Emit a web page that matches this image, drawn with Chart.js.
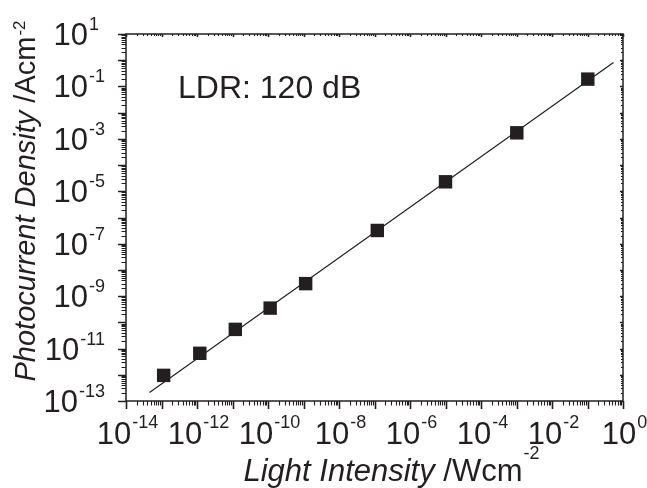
<!DOCTYPE html>
<html>
<head>
<meta charset="utf-8">
<script src="https://cdn.jsdelivr.net/npm/chart.js@4.4.1/dist/chart.umd.min.js"></script>
<style>
  html, body { margin: 0; padding: 0; background: #fff; }
  #wrap { width: 647px; height: 488px; }
</style>
</head>
<body>
<div id="wrap"><canvas id="ldrChart" width="647" height="488"></canvas></div>
<script>
// ---------- Data ----------
const INTENSITY = [1.15e-13, 1.2e-12, 1.2e-11, 1.15e-10, 1.15e-9, 1.2e-7, 1.0e-5, 1.02e-3, 1.02e-1];
const CURRENT   = [9.5e-13, 6.6e-12, 5.4e-11, 3.5e-10, 3.0e-9, 3.2e-7, 2.3e-5, 1.7e-3, 1.9e-1];

// linear fit drawn through the points (end points)
const FIT_X = [4.6e-14, 0.54];
const FIT_Y = [2.1e-13, 0.81];

const X_RANGE = [1e-14, 1];
const Y_RANGE = [1e-13, 10];
const X_LABEL_EXP = [-14, -12, -10, -8, -6, -4, -2, 0];
const Y_LABEL_EXP = [1, -1, -3, -5, -7, -9, -11, -13];

const NOTE = 'LDR: 120 dB';
const X_TITLE = ['Light Intensity', ' /Wcm', '-2'];
const Y_TITLE = ['Photocurrent Density', ' /Acm', '-2'];

const INK = '#231f20';
const FONT = '"Liberation Sans", Arial, Helvetica, sans-serif';

// ---------- helpers ----------
function decadeTicks(min, max) {
  const out = [];
  const e0 = Math.round(Math.log10(min)), e1 = Math.round(Math.log10(max));
  for (let e = e0; e < e1; e++) {
    for (let m = 1; m < 10; m++) out.push({ v: m * Math.pow(10, e), major: m === 1 });
  }
  out.push({ v: max, major: true });
  return out;
}

// pieces: [italic, normal, superscript]
function drawTitle(ctx, parts, size, supSize, supRise) {
  ctx.font = `italic ${size}px ${FONT}`;
  const w0 = ctx.measureText(parts[0]).width;
  ctx.font = `${size}px ${FONT}`;
  const w1 = ctx.measureText(parts[1]).width;
  ctx.font = `${supSize}px ${FONT}`;
  const w2 = ctx.measureText(parts[2]).width;
  let x = -(w0 + w1 + w2 + 1) / 2;
  ctx.textAlign = 'left';
  ctx.textBaseline = 'alphabetic';
  ctx.font = `italic ${size}px ${FONT}`;
  ctx.fillText(parts[0], x, 0);
  x += w0;
  ctx.font = `${size}px ${FONT}`;
  ctx.fillText(parts[1], x, 0);
  x += w1 + 1;
  ctx.font = `${supSize}px ${FONT}`;
  ctx.fillText(parts[2], x, -supRise);
}

const axesPlugin = {
  id: 'originAxes',
  afterDraw(chart) {
    const { ctx, chartArea: a, scales: { x, y } } = chart;
    ctx.save();
    ctx.strokeStyle = INK;
    ctx.fillStyle = INK;

    // frame
    ctx.lineWidth = 1.5;
    ctx.strokeRect(a.left, a.top, a.right - a.left, a.bottom - a.top);

    // x ticks: outward at bottom, small inward at top
    decadeTicks(X_RANGE[0], X_RANGE[1]).forEach(t => {
      const px = Math.round(x.getPixelForValue(t.v)) + 0.5;
      ctx.lineWidth = t.major ? 1.6 : 1.1;
      ctx.beginPath();
      ctx.moveTo(px, a.bottom);
      ctx.lineTo(px, a.bottom + (t.major ? 8 : 4.5));
      ctx.moveTo(px, a.top);
      ctx.lineTo(px, a.top + (t.major ? 3 : 2));
      ctx.stroke();
    });
    // y ticks: outward at left, small inward at right
    decadeTicks(Y_RANGE[0], Y_RANGE[1]).forEach(t => {
      const py = Math.round(y.getPixelForValue(t.v)) + 0.5;
      ctx.lineWidth = t.major ? 1.6 : 1.1;
      ctx.beginPath();
      ctx.moveTo(a.left, py);
      ctx.lineTo(a.left - (t.major ? 8 : 4.5), py);
      ctx.moveTo(a.right, py);
      ctx.lineTo(a.right - (t.major ? 3 : 2), py);
      ctx.stroke();
    });

    const big = `31px ${FONT}`, small = `18px ${FONT}`;
    ctx.textBaseline = 'alphabetic';
    ctx.textAlign = 'left';

    // x tick labels
    X_LABEL_EXP.forEach(e => {
      const px = x.getPixelForValue(Math.pow(10, e));
      const sup = String(e);
      ctx.font = big;
      const wb = ctx.measureText('10').width;
      ctx.font = small;
      const ws = ctx.measureText(sup).width;
      const x0 = px - (wb + ws) / 2 + 1;
      ctx.font = big;
      ctx.fillText('10', x0, a.bottom + 43);
      ctx.font = small;
      ctx.fillText(sup, x0 + wb + 1, a.bottom + 27);
    });

    // y tick labels
    Y_LABEL_EXP.forEach(e => {
      const py = y.getPixelForValue(Math.pow(10, e));
      const sup = String(e);
      ctx.font = small;
      const ws = ctx.measureText(sup).width;
      const wm = e < 0 ? 0 : ctx.measureText('-').width;
      ctx.font = big;
      const wb = ctx.measureText('10').width;
      const right = a.left - 21 - wm;
      ctx.fillText('10', right - ws - wb - 1, py + 11);
      ctx.font = small;
      ctx.fillText(sup, right - ws, py - 4);
    });

    // note
    ctx.font = `32px ${FONT}`;
    ctx.fillText(NOTE, a.left + 52, a.top + 64);

    // x title
    ctx.save();
    ctx.translate((a.left + a.right) / 2 + 17, 481);
    drawTitle(ctx, X_TITLE, 31, 18, 22);
    ctx.restore();

    // y title
    ctx.save();
    ctx.translate(35, 201);
    ctx.rotate(-Math.PI / 2);
    drawTitle(ctx, Y_TITLE, 29, 17, 10);
    ctx.restore();

    ctx.restore();
  }
};

new Chart(document.getElementById('ldrChart'), {
  type: 'scatter',
  data: {
    datasets: [
      {
        label: 'data',
        data: INTENSITY.map((v, i) => ({ x: v, y: CURRENT[i] })),
        pointStyle: 'rect',
        pointRadius: 9.5,
        pointBackgroundColor: INK,
        pointBorderWidth: 0,
        order: 0
      },
      {
        label: 'fit',
        data: FIT_X.map((v, i) => ({ x: v, y: FIT_Y[i] })),
        showLine: true,
        borderColor: INK,
        borderWidth: 1.2,
        pointRadius: 0,
        order: 1
      }
    ]
  },
  options: {
    responsive: false,
    animation: false,
    devicePixelRatio: 1,
    layout: { padding: { left: 126, top: 34, right: 24, bottom: 87 } },
    plugins: { legend: { display: false }, tooltip: { enabled: false } },
    scales: {
      x: { type: 'logarithmic', min: X_RANGE[0], max: X_RANGE[1], display: false },
      y: { type: 'logarithmic', min: Y_RANGE[0], max: Y_RANGE[1], display: false }
    }
  },
  plugins: [axesPlugin]
});
</script>
</body>
</html>
